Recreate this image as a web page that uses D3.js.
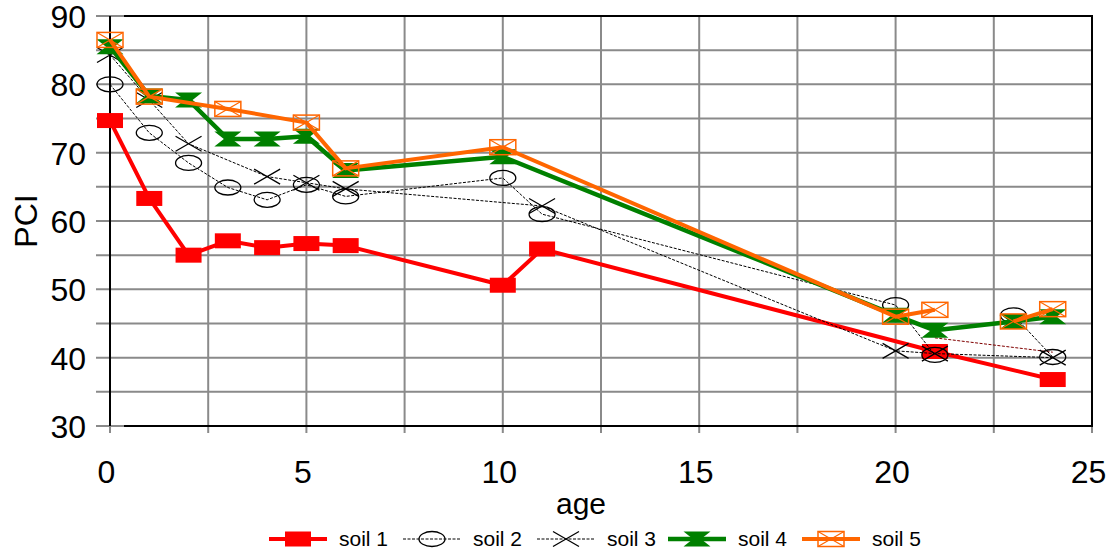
<!DOCTYPE html>
<html><head><meta charset="utf-8">
<script src="https://cdn.jsdelivr.net/npm/d3@7"></script>
<style>
body{margin:0;background:#fff;}
svg{display:block;font-family:"Liberation Sans",Arial,sans-serif;}
</style>
</head><body>
<svg id="chart" width="1111" height="550"></svg>
<script>
// ---- data ----
const seriesNames = ["soil 1", "soil 2", "soil 3", "soil 4", "soil 5"];
const soil1Age = [0, 1, 2, 3, 4, 5, 6, 10, 11, 21, 24];
const soil1PCI = [74.7, 63.3, 55.0, 57.1, 56.1, 56.7, 56.4, 50.6, 55.9, 40.9, 36.8];
const soil2Age = [0, 1, 2, 3, 4, 5, 6, 10, 11, 20, 21, 22, 23, 24];
const soil2PCI = [80.0, 72.9, 68.5, 64.9, 63.1, 65.3, 63.6, 66.3, 61.0, 47.7, 40.4, null, 46.2, 40.1];
const soil3Age = [0, 1, 2, 4, 5, 6, 11, 20, 21, 24];
const soil3PCI = [84.3, 77.7, 71.3, 66.5, 65.6, 64.7, 62.2, 41.0, 40.6, 40.0];
const soil4Age = [0, 1, 2, 3, 4, 5, 6, 10, 20, 21, 23, 24];
const soil4PCI = [85.5, 78.3, 77.7, 72.0, 72.0, 72.4, 67.4, 69.4, 46.2, 44.0, 45.3, 46.0];
const soil5Age = [0, 1, 3, 5, 6, 10, 20, 21, 22, 23, 24];
const soil5PCI = [86.5, 78.2, 76.4, 74.4, 67.7, 70.8, 46.0, 47.0, null, 45.3, 47.1];
const extraAge = [21, 24];
const extraPCI = [42.9, 40.8];
const xTickLabels = [0, 5, 10, 15, 20, 25];
const yTickLabels = [30, 40, 50, 60, 70, 80, 90];

// ---- layout ----
const svg = d3.select("#chart");
const L = 110, R = 1092, T = 16, B = 426;
const x = d3.scaleLinear().domain([0, 25]).range([L, R]);
const y = d3.scaleLinear().domain([30, 90]).range([B, T]);
const gridColor = "#8a8a8a";

// grid
const grid = svg.append("g");
grid.selectAll("line.h").data(d3.range(30, 90.1, 5)).join("line")
  .attr("x1", L - 14).attr("x2", R).attr("y1", d => y(d)).attr("y2", d => y(d))
  .attr("stroke", gridColor).attr("stroke-width", 2);
grid.selectAll("line.v").data(d3.range(0, 25.1, 2.5)).join("line")
  .attr("x1", d => x(d)).attr("x2", d => x(d)).attr("y1", T).attr("y2", B + 7)
  .attr("stroke", gridColor).attr("stroke-width", 2);

// frame
svg.append("line").attr("x1", L).attr("x2", L).attr("y1", T).attr("y2", B).attr("stroke", "#000").attr("stroke-width", 2);
svg.append("line").attr("x1", L + 14).attr("x2", R + 1).attr("y1", B).attr("y2", B).attr("stroke", "#000").attr("stroke-width", 2);
svg.append("line").attr("x1", L + 14).attr("x2", R + 1).attr("y1", T).attr("y2", T).attr("stroke", "#000").attr("stroke-width", 2);
svg.append("line").attr("x1", R).attr("x2", R).attr("y1", T).attr("y2", B).attr("stroke", "#000").attr("stroke-width", 2);

// axes (labels only; ticks drawn as grid extensions)
const yAxis = d3.axisLeft(y).tickValues(yTickLabels).tickSize(0).tickPadding(0);
const gy = svg.append("g").attr("transform", `translate(${L - 24},0)`).call(yAxis);
gy.select(".domain").remove();
gy.selectAll("text").attr("font-size", 32).attr("fill", "#000").attr("dy", "0.36em")
  .attr("font-family", '"Liberation Sans",Arial,sans-serif');

const xAxis = d3.axisBottom(x).tickValues(xTickLabels).tickSize(0).tickPadding(0);
const gx = svg.append("g").attr("transform", `translate(-4,0)`).call(xAxis);
gx.select(".domain").remove();
gx.selectAll("text").attr("font-size", 32).attr("fill", "#000").attr("y", 483).attr("dy", 0)
  .attr("font-family", '"Liberation Sans",Arial,sans-serif');

svg.append("text").attr("transform", "translate(37,221) rotate(-90)").attr("text-anchor", "middle")
  .attr("font-size", 32).text("PCI");
svg.append("text").attr("x", 581).attr("y", 514).attr("text-anchor", "middle")
  .attr("font-size", 30).text("age");

// ---- markers ----
function marker(g, type, cx, cy, color) {
  if (type === "square") {
    g.append("rect").attr("x", cx - 13).attr("y", cy - 7.5).attr("width", 26).attr("height", 15).attr("fill", color);
  } else if (type === "ellipse") {
    g.append("ellipse").attr("cx", cx).attr("cy", cy).attr("rx", 13).attr("ry", 7.5)
      .attr("fill", "none").attr("stroke", color).attr("stroke-width", 1.3);
  } else if (type === "x") {
    g.append("path").attr("d", `M${cx-13},${cy-7.5}L${cx+13},${cy+7.5}M${cx-13},${cy+7.5}L${cx+13},${cy-7.5}`)
      .attr("stroke", color).attr("stroke-width", 1.3).attr("fill", "none");
  } else if (type === "bowtie") {
    g.append("path").attr("d", `M${cx-13.5},${cy-7.5}L${cx+13.5},${cy-7.5}L${cx+4},${cy}L${cx+13.5},${cy+7.5}L${cx-13.5},${cy+7.5}L${cx-4},${cy}Z`)
      .attr("fill", color);
  } else if (type === "box") {
    g.append("rect").attr("x", cx - 13).attr("y", cy - 7.5).attr("width", 26).attr("height", 15)
      .attr("fill", "none").attr("stroke", color).attr("stroke-width", 1.5);
    g.append("path").attr("d", `M${cx-13},${cy-7.5}L${cx+13},${cy+7.5}M${cx-13},${cy+7.5}L${cx+13},${cy-7.5}`)
      .attr("stroke", color).attr("stroke-width", 1.2).attr("fill", "none");
  }
}

const styles = [
  {color: "#ff0000", width: 4, dash: null, marker: "square"},
  {color: "#000000", width: 1, dash: "3,1.5", marker: "ellipse"},
  {color: "#000000", width: 1, dash: "3,1.5", marker: "x"},
  {color: "#008000", width: 4.5, dash: null, marker: "bowtie"},
  {color: "#ff6600", width: 4, dash: null, marker: "box"}
];
const seriesAges = [soil1Age, soil2Age, soil3Age, soil4Age, soil5Age];
const seriesVals = [soil1PCI, soil2PCI, soil3PCI, soil4PCI, soil5PCI];

const line = d3.line().defined(d => d[1] != null).x(d => x(d[0])).y(d => y(d[1]));

// extra thin dark red dashed segment
svg.append("path").attr("d", line(d3.zip(extraAge, extraPCI)))
  .attr("fill", "none").attr("stroke", "#800000").attr("stroke-width", 1).attr("stroke-dasharray", "3,1.5");

seriesNames.forEach((name, i) => {
  const st = styles[i];
  const pts = d3.zip(seriesAges[i], seriesVals[i]);
  const g = svg.append("g");
  g.append("path").attr("d", line(pts)).attr("fill", "none").attr("stroke", st.color)
    .attr("stroke-width", st.width).attr("stroke-dasharray", st.dash).attr("stroke-linejoin", "round");
  pts.filter(d => d[1] != null).forEach(d => marker(g, st.marker, x(d[0]), y(d[1]), st.color));
});

// ---- legend ----
const legendX = [269, 403, 537, 668, 802];
const lg = svg.append("g");
seriesNames.forEach((name, i) => {
  const st = styles[i];
  const x0 = legendX[i], cy = 539;
  lg.append("line").attr("x1", x0).attr("x2", x0 + 58).attr("y1", cy).attr("y2", cy)
    .attr("stroke", st.color).attr("stroke-width", st.width).attr("stroke-dasharray", st.dash);
  marker(lg, st.marker, x0 + 29, cy, st.color);
  lg.append("text").attr("x", x0 + 70).attr("y", cy + 7).attr("font-size", 21)
    .attr("font-family", '"Liberation Sans Narrow","Arial Narrow","Liberation Sans",Arial,sans-serif')
    .text(name);
});
</script>
</body></html>
